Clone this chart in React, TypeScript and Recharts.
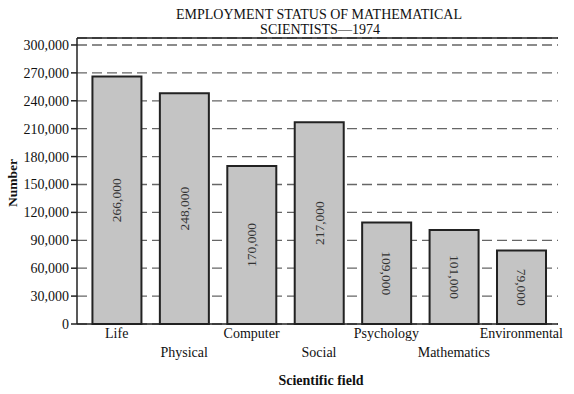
import React from 'react';
import { BarChart, Bar, XAxis, YAxis, CartesianGrid, LabelList, ReferenceLine } from 'recharts';

const fields = ['Life', 'Physical', 'Computer', 'Social', 'Psychology', 'Mathematics', 'Environmental'];
const scientists = [266000, 248000, 170000, 217000, 109000, 101000, 79000];
const yTicks = [0, 30000, 60000, 90000, 120000, 150000, 180000, 210000, 240000, 270000, 300000];
// labels of the last three bars are printed reading downwards
const flipped = [false, false, false, false, true, true, true];

const serif = '"Liberation Serif", "Times New Roman", serif';
const yTop = 307500;

const data = fields.map((field, i) => ({ field, value: scientists[i] }));

const fmt = (v: number) => v.toLocaleString('en-US');

// staggered category labels
const FieldTick = (props: any) => {
  const { x, y, payload, index } = props;
  const dy = index % 2 === 0 ? 6 : 25;
  return (
    <text x={x} y={y + dy} textAnchor="middle" fontFamily={serif} fontSize={14} fill="#111">
      {payload.value}
    </text>
  );
};

const BarValue = (props: any) => {
  const { x, y, width, height, value, index } = props;
  const cx = x + width / 2;
  const cy = y + height / 2;
  const angle = flipped[index] ? 90 : -90;
  return (
    <text
      x={cx}
      y={cy}
      transform={`rotate(${angle} ${cx} ${cy})`}
      textAnchor="middle"
      dominantBaseline="central"
      fontFamily={serif}
      fontSize={13.5}
      fill="#333"
    >
      {fmt(value)}
    </text>
  );
};

const App: React.FC = () => {
  return (
    <div style={{ position: 'absolute', left: 0, top: 0, width: 574, height: 394, background: '#fff' }}>
      <svg width={574} height={40} style={{ position: 'absolute', left: 0, top: 0 }}>
        <text x={319} y={19} textAnchor="middle" fontFamily={serif} fontSize={14} fill="#111">
          EMPLOYMENT STATUS OF MATHEMATICAL
        </text>
        <text x={320} y={34} textAnchor="middle" fontFamily={serif} fontSize={14} fill="#111">
          SCIENTISTS—1974
        </text>
      </svg>
      <div style={{ position: 'absolute', left: 0, top: 0 }}>
        <BarChart
          width={574}
          height={394}
          data={data}
          margin={{ top: 38, right: 16, bottom: 0, left: 0 }}
          barCategoryGap="14%"
        >
          <CartesianGrid vertical={false} strokeDasharray="10 5" stroke="#666" strokeWidth={1.3} />
          <XAxis
            dataKey="field"
            height={70}
            padding={{ left: 6, right: 3 }}
            tickLine={false}
            interval={0}
            tick={<FieldTick />}
            axisLine={{ stroke: '#222', strokeWidth: 1.5 }}
          />
          <XAxis xAxisId="top" orientation="top" height={0} tick={false} tickLine={false} axisLine={{ stroke: '#222', strokeWidth: 1.5 }} />
          <YAxis
            width={77}
            domain={[0, yTop]}
            ticks={yTicks}
            interval={0}
            tickFormatter={fmt}
            tick={{ fontFamily: serif, fontSize: 14, fill: '#111' }}
            tickLine={{ stroke: '#222', strokeWidth: 1.5 }}
            axisLine={{ stroke: '#222', strokeWidth: 1.5 }}
          />
          <YAxis
            yAxisId="right"
            orientation="right"
            width={0}
            domain={[0, yTop]}
            tick={false}
            tickLine={false}
            axisLine={{ stroke: '#222', strokeWidth: 1.5 }}
          />
          <ReferenceLine y={yTop} stroke="#222" strokeWidth={1.5} />
          <Bar dataKey="value" fill="#c4c4c4" stroke="#222" strokeWidth={2} isAnimationActive={false}>
            <LabelList dataKey="value" content={<BarValue />} />
          </Bar>
        </BarChart>
      </div>
      <svg width={574} height={394} style={{ position: 'absolute', left: 0, top: 0, pointerEvents: 'none' }}>
        <text x={321} y={385} textAnchor="middle" fontFamily={serif} fontSize={14} fontWeight="bold" fill="#111">
          Scientific field
        </text>
        <text
          x={12}
          y={183}
          transform="rotate(-90 12 183)"
          textAnchor="middle"
          dominantBaseline="central"
          fontFamily={serif}
          fontSize={13.5}
          fontWeight="bold"
          fill="#111"
        >
          Number
        </text>
      </svg>
    </div>
  );
};

export default App;
